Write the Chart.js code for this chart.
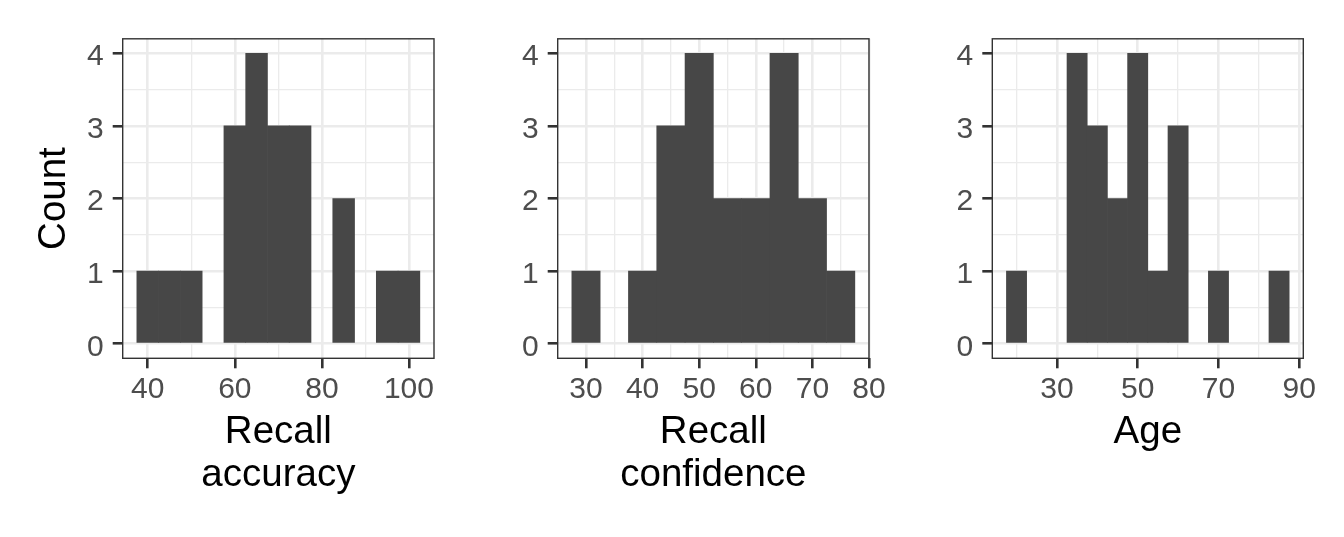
<!DOCTYPE html>
<html>
<head>
<meta charset="utf-8">
<title>Histograms</title>
<script src="https://cdn.jsdelivr.net/npm/chart.js@4.4.1/dist/chart.umd.min.js"></script>
<style>
  html, body { margin: 0; padding: 0; background: #ffffff; }
  body { width: 1344px; height: 537px; position: relative; overflow: hidden; }
  canvas { position: absolute; top: 0; }
</style>
</head>
<body>
<canvas id="accuracyChart" width="470" height="537" style="left:0px"></canvas>
<canvas id="confidenceChart" width="435" height="537" style="left:470px"></canvas>
<canvas id="ageChart" width="439" height="537" style="left:905px"></canvas>
<script>
// bin centres (binwidth 5) and counts per bin
const accuracyBins   = [40, 45, 50, 55, 60, 65, 70, 75, 80, 85, 90, 95, 100];
const accuracyCounts = [1, 1, 1, 0, 3, 4, 3, 3, 0, 2, 0, 1, 1];

const confidenceBins   = [30, 35, 40, 45, 50, 55, 60, 65, 70, 75];
const confidenceCounts = [1, 0, 1, 3, 4, 2, 2, 4, 2, 1];

const ageBins   = [20, 25, 30, 35, 40, 45, 50, 55, 60, 65, 70, 75, 80, 85];
const ageCounts = [1, 0, 0, 4, 3, 2, 4, 1, 3, 0, 1, 0, 0, 1];

// tick labels (major) and minor grid positions
const countTicks = [0, 1, 2, 3, 4];
const countMinor = [0.5, 1.5, 2.5, 3.5];
const accuracyTicks = [40, 60, 80, 100];
const accuracyMinor = [50, 70, 90];
const confidenceTicks = [30, 40, 50, 60, 70, 80];
const confidenceMinor = [35, 45, 55, 65, 75];
const ageTicks = [30, 50, 70, 90];
const ageMinor = [20, 40, 60, 80];

const BIN_WIDTH = 5;
const FONT = "'Liberation Sans', Arial, sans-serif";
const PLOT_TOP = 38.8;
const PLOT_BOTTOM = 358.3;
const CANVAS_H = 537;

Chart.defaults.font.family = FONT;
Chart.defaults.animation = false;

// ggplot-like panel border, drawn over the bars
const panelBorder = {
  id: 'panelBorder',
  afterDatasetsDraw(chart) {
    const a = chart.chartArea;
    const ctx = chart.ctx;
    ctx.save();
    ctx.strokeStyle = '#333333';
    ctx.lineWidth = 1.4;
    ctx.strokeRect(a.left, a.top, a.right - a.left, a.bottom - a.top);
    ctx.restore();
  }
};

function padded(bins) {
  let lo = bins[0] - BIN_WIDTH / 2;
  let hi = bins[bins.length - 1] + BIN_WIDTH / 2;
  let pad = (hi - lo) * 0.05;
  return [lo - pad, hi + pad];
}

function makeHist(id, bins, counts, major, minor, titleText, o) {
  let ctx = document.getElementById(id).getContext('2d');
  let lim = padded(bins);
  let lines = Array.isArray(titleText) ? titleText.length : 1;
  let xTicks = major.concat(minor).sort((a, b) => a - b);
  let yTicks = countTicks.concat(countMinor).sort((a, b) => a - b);
  let isMajorX = (v) => major.indexOf(v) !== -1;
  let isMajorY = (v) => countTicks.indexOf(v) !== -1;

  return new Chart(ctx, {
    type: 'bar',
    data: {
      datasets: [{
        data: bins.map((b, i) => ({ x: b, y: counts[i] })),
        // empty bins stay invisible
        backgroundColor: (c) => (c.raw && c.raw.y > 0) ? '#474747' : 'rgba(0,0,0,0)',
        borderWidth: 0,
        barPercentage: 1,
        categoryPercentage: 1
      }]
    },
    options: {
      responsive: false,
      devicePixelRatio: 1,
      layout: { padding: { top: PLOT_TOP, bottom: 0, left: 0, right: o.rightPad } },
      plugins: { legend: { display: false }, tooltip: { enabled: false } },
      scales: {
        x: {
          type: 'linear',
          min: lim[0],
          max: lim[1],
          offset: false,
          afterBuildTicks: (s) => { s.ticks = xTicks.map(v => ({ value: v })); },
          afterFit: (s) => { s.height = CANVAS_H - PLOT_BOTTOM; },
          border: { display: false },
          grid: {
            offset: false,
            color: '#EBEBEB',
            lineWidth: (c) => isMajorX(c.tick.value) ? 2.6 : 1.3,
            tickLength: 10,
            tickWidth: 2.6,
            tickColor: (c) => isMajorX(c.tick.value) ? '#333333' : 'rgba(0,0,0,0)'
          },
          ticks: {
            autoSkip: false,
            maxRotation: 0,
            padding: 3.5,
            color: '#4D4D4D',
            font: { size: 30, family: FONT },
            callback: (v) => isMajorX(v) ? String(v) : ''
          },
          title: {
            display: true,
            text: titleText,
            color: '#000000',
            font: { size: 38.5, family: FONT, lineHeight: 1.104 },
            padding: { top: 0, bottom: lines > 1 ? 40.5 : 83 }
          }
        },
        y: {
          type: 'linear',
          min: -0.2,
          max: 4.2,
          afterBuildTicks: (s) => { s.ticks = yTicks.map(v => ({ value: v })); },
          afterFit: (s) => { s.width = o.leftW; },
          border: { display: false },
          grid: {
            color: '#EBEBEB',
            lineWidth: (c) => isMajorY(c.tick.value) ? 2.6 : 1.3,
            tickLength: 10,
            tickWidth: 2.6,
            tickColor: (c) => isMajorY(c.tick.value) ? '#333333' : 'rgba(0,0,0,0)'
          },
          ticks: {
            autoSkip: false,
            padding: 9,
            labelOffset: 3.5,
            color: '#4D4D4D',
            font: { size: 30, family: FONT },
            callback: (v) => isMajorY(v) ? String(v) : ''
          },
          title: {
            display: !!o.yTitle,
            text: o.yTitle || '',
            color: '#000000',
            font: { size: 38.5, family: FONT, lineHeight: 1.104 },
            padding: { top: 33.5, bottom: 0 }
          }
        }
      }
    },
    plugins: [panelBorder]
  });
}

makeHist('accuracyChart', accuracyBins, accuracyCounts, accuracyTicks, accuracyMinor,
  ['Recall', 'accuracy'], { leftW: 122.7, rightPad: 36, yTitle: 'Count' });
makeHist('confidenceChart', confidenceBins, confidenceCounts, confidenceTicks, confidenceMinor,
  ['Recall', 'confidence'], { leftW: 87.7, rightPad: 36 });
makeHist('ageChart', ageBins, ageCounts, ageTicks, ageMinor,
  'Age', { leftW: 87.3, rightPad: 40.7 });
</script>
</body>
</html>
